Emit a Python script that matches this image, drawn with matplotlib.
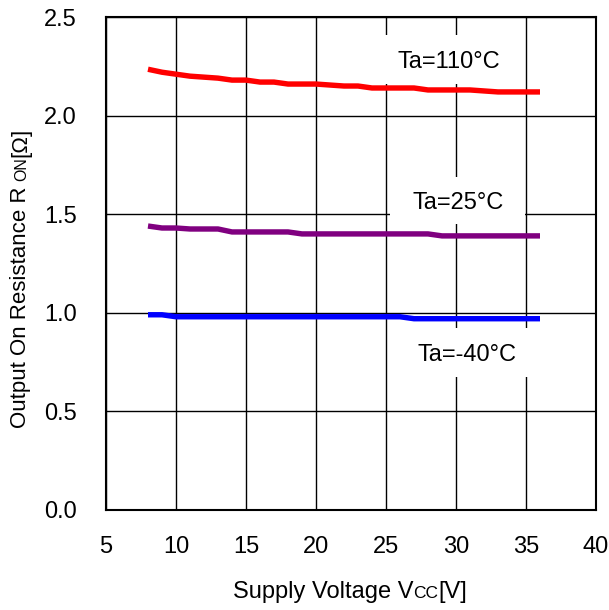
import matplotlib
matplotlib.use("Agg")
import matplotlib.pyplot as plt
from matplotlib.patches import Rectangle
from matplotlib.transforms import IdentityTransform

plt.rcParams['font.family'] = ['Liberation Sans', 'DejaVu Sans']

# ---- data ----
vcc = [8, 9, 10, 11, 12, 13, 14, 15, 16, 17, 18, 19, 20, 21, 22, 23, 24, 25,
       26, 27, 28, 29, 30, 31, 32, 33, 34, 35, 36]
ron_110 = [2.235, 2.22, 2.21, 2.20, 2.195, 2.19, 2.18, 2.18, 2.17, 2.17, 2.16,
           2.16, 2.16, 2.155, 2.15, 2.15, 2.14, 2.14, 2.14, 2.14, 2.13, 2.13,
           2.13, 2.13, 2.125, 2.12, 2.12, 2.12, 2.12]
ron_25 = [1.44, 1.43, 1.43, 1.425, 1.425, 1.425, 1.41, 1.41, 1.41, 1.41, 1.41,
          1.40, 1.40, 1.40, 1.40, 1.40, 1.40, 1.40, 1.40, 1.40, 1.40, 1.39,
          1.39, 1.39, 1.39, 1.39, 1.39, 1.39, 1.39]
ron_m40 = [0.99, 0.99, 0.98, 0.98, 0.98, 0.98, 0.98, 0.98, 0.98, 0.98, 0.98,
           0.98, 0.98, 0.98, 0.98, 0.98, 0.98, 0.98, 0.98, 0.97, 0.97, 0.97,
           0.97, 0.97, 0.97, 0.97, 0.97, 0.97, 0.97]
labels = ["Ta=110°C", "Ta=25°C", "Ta=-40°C"]
colors = ["#ff0000", "#800080", "#0000ff"]
x_ticks = [5, 10, 15, 20, 25, 30, 35, 40]
y_ticks = [0.0, 0.5, 1.0, 1.5, 2.0, 2.5]

W, H = 609, 610
FS = 17
fig = plt.figure(figsize=(W / 100, H / 100), dpi=100)
ax = fig.add_axes([106 / W, 1 - 510 / H, (596 - 106) / W, (510 - 17) / H])

ax.set_xlim(5, 40)
ax.set_ylim(0, 2.5)
ax.set_xticks(x_ticks)
ax.set_yticks(y_ticks)
ax.set_yticklabels([f"{v:.1f}" for v in y_ticks])
ax.tick_params(axis='both', length=0, labelsize=FS)
ax.tick_params(axis='x', pad=19)
ax.tick_params(axis='y', pad=21)
ax.set_axisbelow(True)
ax.grid(True, color='black', linewidth=1.0)
for s in ax.spines.values():
    s.set_linewidth(1.5)
    s.set_zorder(5)

# label boxes (white, hiding grid)
boxes = [(24.6, 2.16, 9.75, 0.25), (25.3, 1.45, 9.65, 0.24), (26.0, 0.674, 9.7, 0.25)]
for (bx, by, bw, bh) in boxes:
    ax.add_patch(Rectangle((bx, by), bw, bh, facecolor='white', edgecolor='none', zorder=1))

series = [ron_110, ron_25, ron_m40]
for ys, c in zip(series, colors):
    ax.plot(vcc, ys, color=c, linewidth=3.9, solid_capstyle='butt', zorder=3)

text_pos = [(29.5, 2.240), (30.12, 1.525), (30.76, 0.756)]
for (tx, ty), lab in zip(text_pos, labels):
    ax.text(tx, ty, lab, ha='center', va='baseline', fontsize=FS, zorder=4)


def rich_text(pieces, x0, y0, vertical=False):
    renderer = fig.canvas.get_renderer()
    sizes = []
    for s, fs in pieces:
        t = fig.text(0, 0, s, fontsize=fs, transform=IdentityTransform())
        bb = t.get_window_extent(renderer)
        sizes.append(bb.width)
        t.remove()
    total = sum(sizes)
    pos = (y0 if vertical else x0) - total / 2
    for (s, fs), w in zip(pieces, sizes):
        if vertical:
            fig.text(x0, pos, s, fontsize=fs, rotation=90, rotation_mode='anchor',
                     ha='left', va='baseline', transform=IdentityTransform())
        else:
            fig.text(pos, y0, s, fontsize=fs, ha='left', va='baseline',
                     transform=IdentityTransform())
        pos += w


rich_text([("Supply Voltage V", FS), ("CC", 12.5), ("[V]", FS)], 350, H - 598)
rich_text([("Output On Resistance R ", 16), ("ON", 11.5), ("[Ω]", 16)], 26, H - 278,
          vertical=True)

fig.savefig("out.png", dpi=100)
